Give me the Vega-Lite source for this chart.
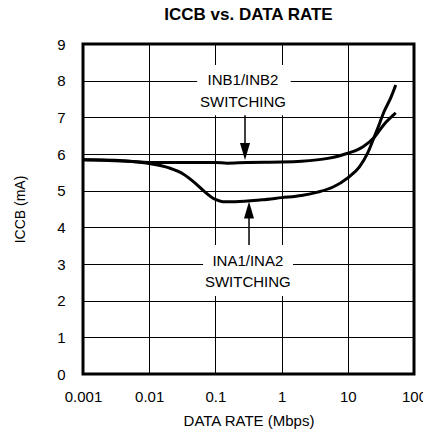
{
  "$schema": "https://vega.github.io/schema/vega-lite/v6.json",
  "width": 331,
  "height": 330,
  "autosize": "none",
  "padding": {"left": 83, "top": 44, "right": 9, "bottom": 62},
  "background": "white",
  "config": {
    "font": "Liberation Sans",
    "view": {"stroke": "black", "strokeWidth": 3}
  },
  "title": {
    "text": "ICCB vs. DATA RATE",
    "font": "Liberation Sans",
    "fontSize": 17,
    "fontWeight": "bold",
    "color": "black",
    "anchor": "middle",
    "frame": "group",
    "offset": 13
  },
  "datasets": {
    "curves": [
      {"series": "INB", "x": 0.001, "y": 5.84},
      {"series": "INB", "x": 0.002, "y": 5.83},
      {"series": "INB", "x": 0.005, "y": 5.8},
      {"series": "INB", "x": 0.01, "y": 5.77},
      {"series": "INB", "x": 0.03, "y": 5.77},
      {"series": "INB", "x": 0.1, "y": 5.77},
      {"series": "INB", "x": 0.15, "y": 5.75},
      {"series": "INB", "x": 0.3, "y": 5.77},
      {"series": "INB", "x": 1, "y": 5.78},
      {"series": "INB", "x": 2, "y": 5.8},
      {"series": "INB", "x": 5, "y": 5.88},
      {"series": "INB", "x": 10, "y": 6.02},
      {"series": "INB", "x": 17, "y": 6.2},
      {"series": "INB", "x": 25, "y": 6.45},
      {"series": "INB", "x": 35, "y": 6.8},
      {"series": "INB", "x": 53, "y": 7.12},
      {"series": "INA", "x": 0.001, "y": 5.84},
      {"series": "INA", "x": 0.003, "y": 5.83},
      {"series": "INA", "x": 0.005, "y": 5.8},
      {"series": "INA", "x": 0.01, "y": 5.74},
      {"series": "INA", "x": 0.02, "y": 5.62},
      {"series": "INA", "x": 0.033, "y": 5.45},
      {"series": "INA", "x": 0.05, "y": 5.2},
      {"series": "INA", "x": 0.066, "y": 5.0},
      {"series": "INA", "x": 0.1, "y": 4.76},
      {"series": "INA", "x": 0.13, "y": 4.7},
      {"series": "INA", "x": 0.2, "y": 4.7},
      {"series": "INA", "x": 0.5, "y": 4.75},
      {"series": "INA", "x": 1, "y": 4.81},
      {"series": "INA", "x": 2, "y": 4.87},
      {"series": "INA", "x": 3.5, "y": 4.96},
      {"series": "INA", "x": 6, "y": 5.1},
      {"series": "INA", "x": 10, "y": 5.35},
      {"series": "INA", "x": 15, "y": 5.65},
      {"series": "INA", "x": 20, "y": 6.03},
      {"series": "INA", "x": 25, "y": 6.46},
      {"series": "INA", "x": 30, "y": 6.82},
      {"series": "INA", "x": 35, "y": 7.14},
      {"series": "INA", "x": 45, "y": 7.55},
      {"series": "INA", "x": 53, "y": 7.88}
    ],
    "boxes": [
      {"x": 0.053, "x2": 1.37, "y": 7.06, "y2": 8.43},
      {"x": 0.065, "x2": 1.49, "y": 2.13, "y2": 3.52}
    ],
    "labels": [
      {"x": 0.261, "y": 8.02, "text": "INB1/INB2"},
      {"x": 0.261, "y": 7.42, "text": "SWITCHING"},
      {"x": 0.309, "y": 3.08, "text": "INA1/INA2"},
      {"x": 0.309, "y": 2.51, "text": "SWITCHING"}
    ],
    "arrows": [
      {"x": 0.28, "y": 7.06, "y2": 6.07},
      {"x": 0.322, "y": 3.52, "y2": 4.47}
    ],
    "heads": [
      {"x": 0.28, "y": 6.07, "dir": "down"},
      {"x": 0.322, "y": 4.47, "dir": "up"}
    ]
  },
  "encoding": {
    "x": {
      "field": "x",
      "type": "quantitative",
      "scale": {"type": "log", "domain": [0.001, 100]},
      "axis": {
        "values": [0.001, 0.01, 0.1, 1, 10, 100],
        "format": "~g",
        "title": "DATA RATE (Mbps)",
        "grid": true,
        "gridColor": "black",
        "gridOpacity": 1,
        "gridWidth": 1,
        "ticks": false,
        "domain": false,
        "labelFont": "Liberation Sans",
        "labelFontSize": 15,
        "labelColor": "black",
        "labelPadding": 15,
        "labelFlush": false,
        "labelOverlap": false,
        "titleFont": "Liberation Sans",
        "titleFontSize": 15,
        "titleFontWeight": "normal",
        "titleColor": "black",
        "titlePadding": 9
      }
    },
    "y": {
      "field": "y",
      "type": "quantitative",
      "scale": {"domain": [0, 9], "nice": false},
      "axis": {
        "values": [0, 1, 2, 3, 4, 5, 6, 7, 8, 9],
        "title": "ICCB (mA)",
        "grid": true,
        "gridColor": "black",
        "gridOpacity": 1,
        "gridWidth": 1,
        "ticks": false,
        "domain": false,
        "labelFont": "Liberation Sans",
        "labelFontSize": 15,
        "labelColor": "black",
        "labelPadding": 18,
        "labelOverlap": false,
        "labelFlush": false,
        "titleFont": "Liberation Sans",
        "titleFontSize": 14,
        "titleFontWeight": "normal",
        "titleColor": "black",
        "titlePadding": 29
      }
    }
  },
  "layer": [
    {
      "data": {"name": "boxes"},
      "mark": {"type": "rect", "fill": "white", "stroke": null},
      "encoding": {
        "x2": {"field": "x2"},
        "y2": {"field": "y2"}
      }
    },
    {
      "data": {"name": "curves"},
      "mark": {"type": "line", "color": "black", "strokeWidth": 3, "interpolate": "monotone"},
      "encoding": {
        "detail": {"field": "series"}
      }
    },
    {
      "data": {"name": "arrows"},
      "mark": {"type": "rule", "color": "black", "strokeWidth": 1.5},
      "encoding": {
        "y2": {"field": "y2"}
      }
    },
    {
      "data": {"name": "heads"},
      "mark": {"type": "point", "filled": true, "color": "black", "opacity": 1, "size": 289, "strokeWidth": 0},
      "encoding": {
        "shape": {
          "field": "dir",
          "type": "nominal",
          "scale": {"domain": ["down", "up"], "range": ["M-0.59,-1L0.59,-1L0,1Z", "M-0.59,1L0.59,1L0,-1Z"]},
          "legend": null
        }
      }
    },
    {
      "data": {"name": "labels"},
      "mark": {"type": "text", "font": "Liberation Sans", "fontSize": 15, "color": "black", "align": "center", "baseline": "middle"},
      "encoding": {
        "text": {"field": "text"}
      }
    }
  ]
}
